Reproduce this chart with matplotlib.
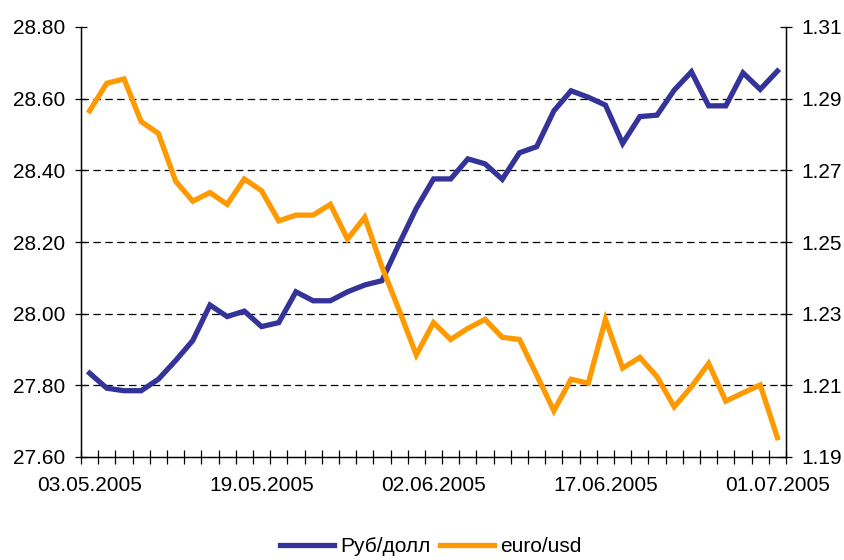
import matplotlib
matplotlib.use("Agg")
import matplotlib.pyplot as plt

plt.rcParams["font.family"] = ["Liberation Sans", "DejaVu Sans"]

# trading days, May-July 2005
dates = [
    "03.05.2005", "04.05.2005", "05.05.2005", "06.05.2005", "11.05.2005",
    "12.05.2005", "13.05.2005", "16.05.2005", "17.05.2005", "18.05.2005",
    "19.05.2005", "20.05.2005", "23.05.2005", "24.05.2005", "25.05.2005",
    "26.05.2005", "27.05.2005", "30.05.2005", "31.05.2005", "01.06.2005",
    "02.06.2005", "03.06.2005", "06.06.2005", "07.06.2005", "08.06.2005",
    "09.06.2005", "10.06.2005", "14.06.2005", "15.06.2005", "16.06.2005",
    "17.06.2005", "20.06.2005", "21.06.2005", "22.06.2005", "23.06.2005",
    "24.06.2005", "27.06.2005", "28.06.2005", "29.06.2005", "30.06.2005",
    "01.07.2005",
]

rub_usd = [
    27.834, 27.792, 27.785, 27.785, 27.817, 27.869, 27.925, 28.024, 27.992, 28.007,
    27.964, 27.975, 28.061, 28.036, 28.036, 28.061, 28.080, 28.092, 28.195, 28.294,
    28.376, 28.376, 28.432, 28.418, 28.375, 28.449, 28.466, 28.566, 28.622, 28.604,
    28.582, 28.475, 28.550, 28.554, 28.624, 28.675, 28.580, 28.580, 28.672, 28.626,
    28.677,
]

eur_usd = [
    1.2866, 1.2943, 1.2955, 1.2836, 1.2803, 1.2670, 1.2614, 1.2638, 1.2605, 1.2676,
    1.2643, 1.2559, 1.2575, 1.2575, 1.2605, 1.2508, 1.2569, 1.2431, 1.2310, 1.2185,
    1.2275, 1.2228, 1.2259, 1.2284, 1.2234, 1.2228, 1.2129, 1.2029, 1.2117, 1.2106,
    1.2284, 1.2148, 1.2178, 1.2124, 1.2040, 1.2096, 1.2161, 1.2056, 1.2079, 1.2101,
    1.1954,
]

left_ticks = [27.60, 27.80, 28.00, 28.20, 28.40, 28.60, 28.80]
right_ticks = [1.19, 1.21, 1.23, 1.25, 1.27, 1.29, 1.31]

BLUE = "#333399"
ORANGE = "#FF9900"

x = list(range(len(dates)))

fig = plt.figure(figsize=(8.45, 5.6), dpi=100)
ax = fig.add_axes([81 / 845, 1 - 457 / 560, 705 / 845, 430 / 560])
ax2 = ax.twinx()

ax.plot(x, rub_usd, color=BLUE, lw=3.8, solid_joinstyle="miter", label="Руб/долл")
ax2.plot(x, eur_usd, color=ORANGE, lw=3.8, solid_joinstyle="miter", label="euro/usd")

ax.set_xlim(-0.5, len(dates) - 0.5)
ax.set_ylim(27.60, 28.80)
ax2.set_ylim(1.19, 1.31)

# dashed gridlines (interior only)
for v in left_ticks[1:-1]:
    ax.axhline(v, color="black", lw=0.9, dashes=(6, 3.5), zorder=0.5)

ax.set_yticks(left_ticks)
ax.set_yticklabels([f"{v:.2f}" for v in left_ticks])
ax2.set_yticks(right_ticks)
ax2.set_yticklabels([f"{v:.2f}" for v in right_ticks])

# category boundaries carry the tick marks, labels every 10th day
ax.set_xticks([i - 0.5 for i in range(len(dates) + 1)])
ax.set_xticklabels([])
ax.set_xticks(x[::10], minor=True)
ax.set_xticklabels(dates[::10], minor=True)

ax.tick_params(axis="x", which="major", direction="inout", length=10, width=0.9)
ax.tick_params(axis="x", which="minor", length=0, pad=14, labelsize=15)
ax.tick_params(axis="y", direction="inout", length=8.5, width=0.9, pad=7, labelsize=15)
ax2.tick_params(axis="y", direction="inout", length=8.5, width=0.9, pad=7, labelsize=15)

for a in (ax, ax2):
    a.spines["top"].set_visible(False)
    for s in ("left", "right", "bottom"):
        a.spines[s].set_linewidth(0.9)

h1, l1 = ax.get_legend_handles_labels()
h2, l2 = ax2.get_legend_handles_labels()
fig.legend(h1 + h2, l1 + l2, loc="lower center", bbox_to_anchor=(0.51, -0.027),
           ncol=2, frameon=False, fontsize=15, handlelength=2.6,
           handletextpad=0.3, columnspacing=0.45)

fig.savefig("out.png", dpi=100)
